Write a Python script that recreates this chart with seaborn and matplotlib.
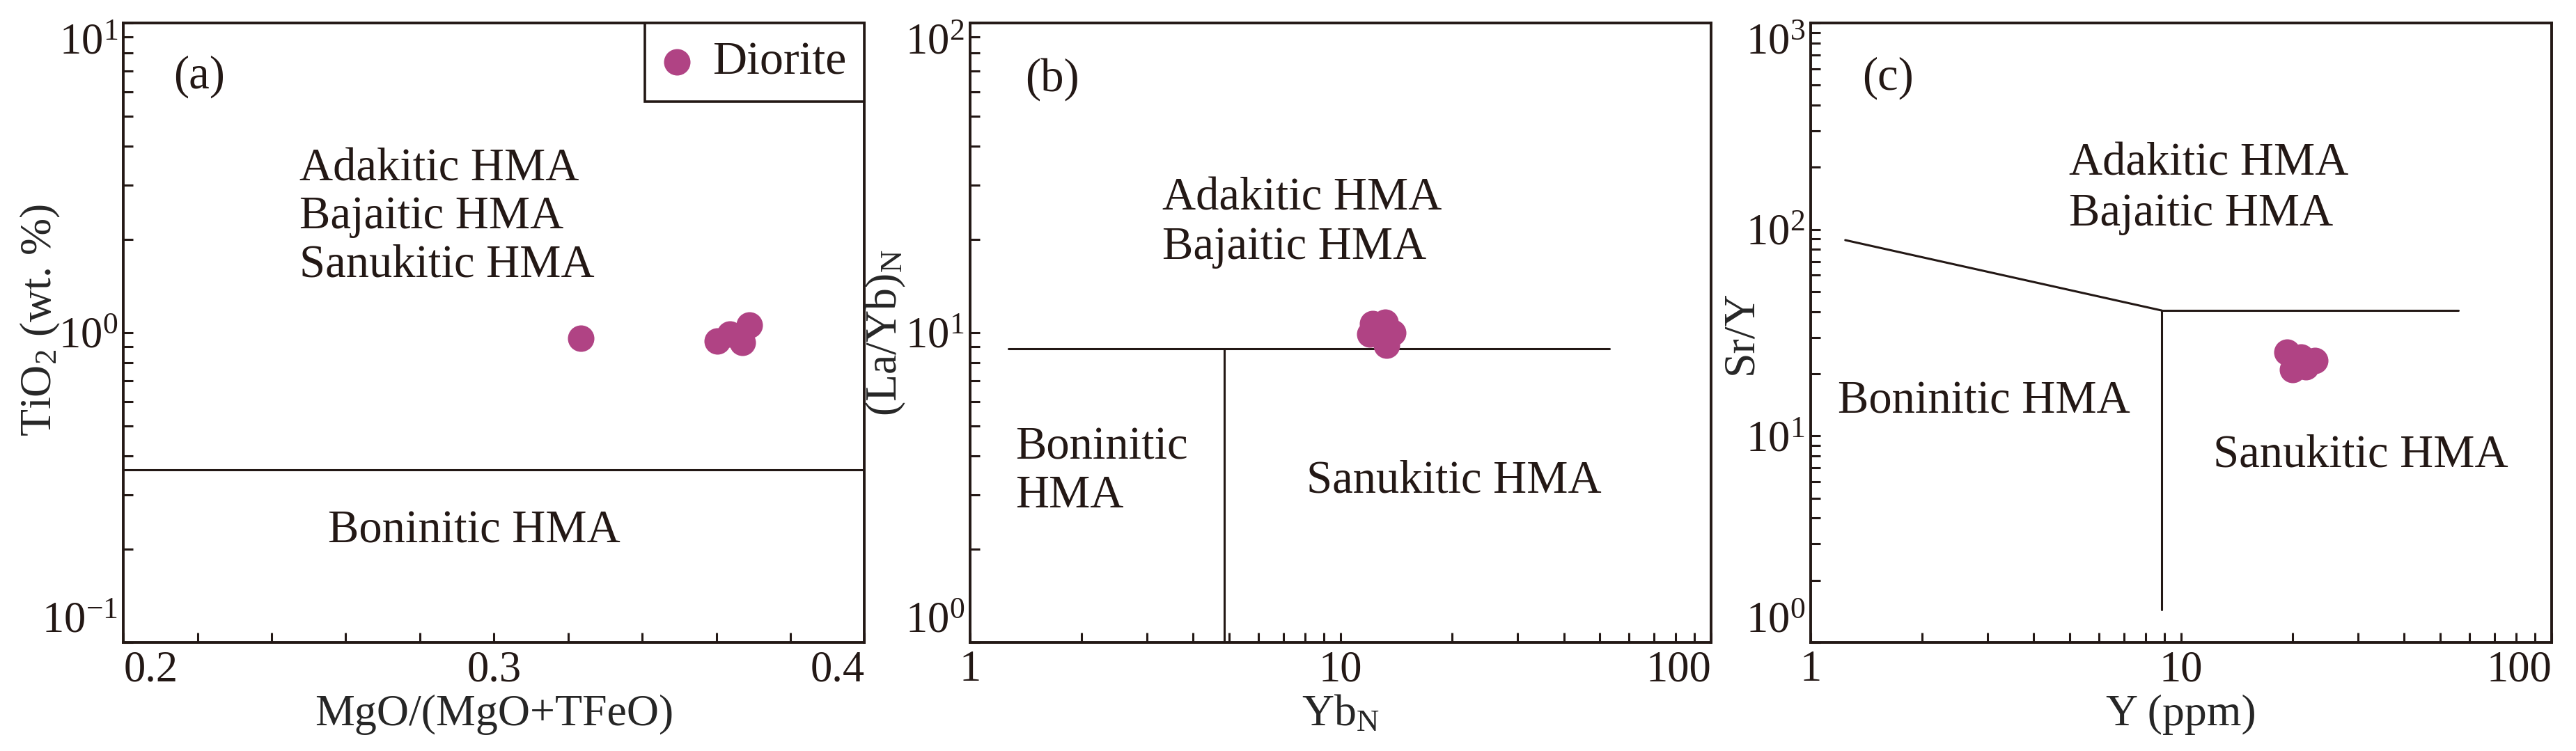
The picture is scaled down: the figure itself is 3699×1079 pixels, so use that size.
import seaborn as sns
import matplotlib.pyplot as plt
from matplotlib.ticker import MultipleLocator, LogLocator, NullFormatter

# (a) MgO/(MgO+TFeO) vs TiO2
mg_ratio = [0.3235, 0.3603, 0.3637, 0.3671, 0.3690]
tio2 = [0.96, 0.94, 0.99, 0.93, 1.06]

# (b) YbN vs (La/Yb)N
yb_n = [12.2, 13.2, 13.8, 13.3, 12.0]
la_yb_n = [10.7, 10.8, 10.0, 9.1, 9.9]

# (c) Y vs Sr/Y
y_ppm = [19.3, 21.0, 22.9, 20.0, 21.7]
sr_y = [25.4, 24.1, 23.2, 21.0, 21.6]

# field boundaries
a_line_y = 0.36
b_line_y = 8.9
b_line_x = [1.27, 53]
b_vert_x = 4.85
c_slope_x = [1.24, 8.86]
c_slope_y = [88.8, 40.5]
c_flat_x = [8.86, 56]
c_vert_y = [1.44, 40.5]

PURPLE = "#b04384"
DARK = "#231815"

sns.set_theme(style="white")
plt.rcParams["font.family"] = ["Liberation Serif", "DejaVu Serif"]
plt.rcParams["mathtext.fontset"] = "custom"
plt.rcParams["mathtext.rm"] = "Liberation Serif"
plt.rcParams["mathtext.it"] = "Liberation Serif:italic"
plt.rcParams["mathtext.bf"] = "Liberation Serif:bold"
plt.rcParams["text.color"] = DARK

fig = plt.figure(figsize=(36.99, 10.79), dpi=100)
fig.patch.set_facecolor("white")
ax_a = fig.add_axes([0.0479, 0.1446, 0.2877, 0.8248])
ax_b = fig.add_axes([0.3766, 0.1446, 0.2877, 0.8248])
ax_c = fig.add_axes([0.7029, 0.1446, 0.2877, 0.8248])


def style(ax):
    for s in ax.spines.values():
        s.set_linewidth(2.8)
        s.set_color(DARK)
    ax.tick_params(which="both", direction="in", length=10, width=2.2,
                   color=DARK, labelsize=45, labelcolor=DARK,
                   top=False, right=False, left=True, bottom=True)
    ax.tick_params(axis="x", which="both", pad=8)
    ax.tick_params(axis="y", which="both", pad=6)
    ax.grid(False)


def log_y(ax, lo, hi):
    ax.set_yscale("log")
    ax.set_ylim(10 ** lo, 10 ** hi)
    ax.set_yticks([10.0 ** e for e in range(lo, hi + 1)],
                  [f"$10^{{{e}}}$" for e in range(lo, hi + 1)])
    ax.yaxis.set_minor_locator(LogLocator(base=10, subs=range(2, 10)))
    ax.yaxis.set_minor_formatter(NullFormatter())
    labs = ax.get_yticklabels()
    labs[0].set_va("bottom")
    labs[-1].set_va("top")


def log_x(ax):
    ax.set_xscale("log")
    ax.set_xlim(1, 100)
    ax.set_xticks([1, 10, 100], ["1", "10", "100"])
    ax.xaxis.set_minor_locator(LogLocator(base=10, subs=range(2, 10)))
    ax.xaxis.set_minor_formatter(NullFormatter())
    ax.get_xticklabels()[-1].set_ha("right")


def region(ax, x, y, s):
    ax.text(x, y, s, transform=ax.transAxes, fontsize=48, va="baseline",
            ha="left", color=DARK)


# ---- (a)
ax = ax_a
sns.scatterplot(x=mg_ratio, y=tio2, ax=ax, color=PURPLE, s=750,
                linewidth=0, label="Diorite", zorder=5)
ax.axhline(a_line_y, color=DARK, lw=2.2)
ax.set_xlim(0.2, 0.4)
ax.set_xticks([0.2, 0.3, 0.4], ["0.2", "0.3", "0.4"])
ax.xaxis.set_minor_locator(MultipleLocator(0.02))
log_y(ax, -1, 1)
ax.get_xticklabels()[0].set_ha("left")
ax.get_xticklabels()[-1].set_ha("right")
ax.text(0.068, 0.913, "(a)", transform=ax.transAxes, fontsize=48, va="center")
region(ax, 0.238, 0.745, "Adakitic HMA")
region(ax, 0.238, 0.668, "Bajaitic HMA")
region(ax, 0.238, 0.591, "Sanukitic HMA")
region(ax, 0.276, 0.161, "Boninitic HMA")
ax.set_xlabel("MgO/(MgO+TFeO)", fontsize=46, va="center")
ax.set_ylabel(r"TiO$_\mathregular{2}$ (wt. %)", fontsize=46, va="center")
ax.xaxis.set_label_coords(0.5, -0.117)
ax.yaxis.set_label_coords(-0.112, 0.52)
leg = ax.legend(loc="upper right", borderaxespad=0, frameon=True,
                fancybox=False, fontsize=49, handlelength=0.6,
                handletextpad=0.45, borderpad=0.38, framealpha=1,
                edgecolor=DARK)
leg.get_frame().set_linewidth(2.6)

# ---- (b)
ax = ax_b
sns.scatterplot(x=yb_n, y=la_yb_n, ax=ax, color=PURPLE, s=750,
                linewidth=0, legend=False, zorder=5)
ax.plot(b_line_x, [b_line_y, b_line_y], color=DARK, lw=2.2)
ax.plot([b_vert_x, b_vert_x], [1, b_line_y], color=DARK, lw=2.2)
log_x(ax)
log_y(ax, 0, 2)
ax.text(0.074, 0.909, "(b)", transform=ax.transAxes, fontsize=48, va="center")
region(ax, 0.259, 0.698, "Adakitic HMA")
region(ax, 0.259, 0.619, "Bajaitic HMA")
region(ax, 0.061, 0.296, "Boninitic")
region(ax, 0.061, 0.218, "HMA")
region(ax, 0.454, 0.2416, "Sanukitic HMA")
ax.set_xlabel(r"Yb$_\mathregular{N}$", fontsize=46, va="center")
ax.set_ylabel(r"(La/Yb)$_\mathregular{N}$", fontsize=46, va="center")
ax.xaxis.set_label_coords(0.5, -0.117)
ax.yaxis.set_label_coords(-0.114, 0.5)

# ---- (c)
ax = ax_c
sns.scatterplot(x=y_ppm, y=sr_y, ax=ax, color=PURPLE, s=750,
                linewidth=0, legend=False, zorder=5)
ax.plot(c_slope_x, c_slope_y, color=DARK, lw=2.2)
ax.plot(c_flat_x, [c_slope_y[1], c_slope_y[1]], color=DARK, lw=2.2)
ax.plot([c_slope_x[1], c_slope_x[1]], c_vert_y, color=DARK, lw=2.2)
log_x(ax)
log_y(ax, 0, 3)
ax.text(0.0695, 0.911, "(c)", transform=ax.transAxes, fontsize=48, va="center")
region(ax, 0.349, 0.754, "Adakitic HMA")
region(ax, 0.349, 0.673, "Bajaitic HMA")
region(ax, 0.0367, 0.3697, "Boninitic HMA")
region(ax, 0.543, 0.284, "Sanukitic HMA")
ax.set_xlabel("Y (ppm)", fontsize=46, va="center")
ax.set_ylabel("Sr/Y", fontsize=46, va="center")
ax.xaxis.set_label_coords(0.5, -0.117)
ax.yaxis.set_label_coords(-0.094, 0.5)

for ax in (ax_a, ax_b, ax_c):
    style(ax)

fig.savefig("out.png", dpi=100, facecolor="white")
